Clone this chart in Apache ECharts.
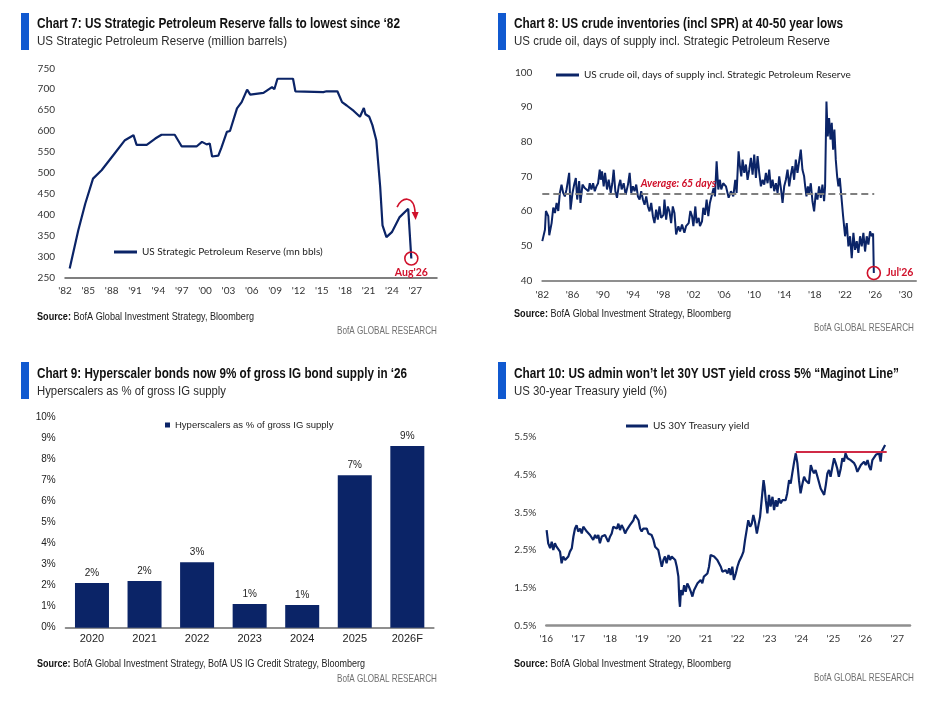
<!DOCTYPE html>
<html>
<head>
<meta charset="utf-8">
<script src="https://cdn.jsdelivr.net/npm/echarts/dist/echarts.min.js"></script>
<style>
html, body { margin: 0; padding: 0; background: #fff; }
#main { width: 928px; height: 712px; }
</style>
</head>
<body>
<div id="main"></div>
<script>
// ---- Chart 7: SPR level, [year, million barrels]
var sprLevels = [
  [1982.6,271],[1983.7,362],[1984.6,426],[1985.6,486],[1986.7,506],[1988.2,542],[1989.7,578],[1990.8,590],
  [1991.2,567],[1992.5,567],[1993.6,582],[1994.4,591],[1996.1,591],[1997.0,563],[1998.9,563],[1999.6,574],
  [2000.2,568],[2000.6,570],[2000.9,539],[2001.7,541],[2002.1,560],[2002.8,598],[2003.2,600],[2004.1,654],
  [2004.7,669],[2005.4,699],[2005.8,687],[2007.5,691],[2008.6,705],[2008.9,700],[2009.3,725],[2011.3,725],
  [2011.6,695],[2015.2,693],[2015.6,695],[2017.0,695],[2017.6,669],[2018.2,661],[2019.1,648],[2019.9,634],
  [2020.4,655],[2020.6,640],[2021.1,634],[2021.5,614],[2022.0,578],[2022.5,466],[2022.8,374],[2023.3,346],
  [2024.0,358],[2025.0,394],[2026.1,414],[2026.5,295]
];
var sprLast = [2026.5, 295];
// curved "still falling" arrow next to the last point, in data units
var sprArrow = { from: [2024.67, 418], c1: [2025.19, 442], c2: [2026.86, 449], to: [2026.99, 404],
                 headL: [2026.54, 406], headR: [2027.44, 406], tip: [2027.05, 387] };

// ---- Chart 8: days of supply incl. SPR, [year, days]
var daysOfSupply = [
  [1982.00,51.3],[1982.35,54.6],[1982.48,60.0],[1982.79,58.5],[1982.92,53.0],[1983.23,56.5],[1983.45,61.0],[1983.67,59.4],[1983.89,62.3],[1984.11,60.0],
  [1984.32,65.2],[1984.54,67.6],[1984.76,65.2],[1984.98,64.2],[1985.20,66.2],[1985.55,71.0],[1985.73,60.4],[1985.99,65.2],[1986.21,67.6],[1986.43,69.5],
  [1986.61,63.3],[1986.87,68.6],[1987.04,62.3],[1987.31,67.6],[1987.61,66.6],[1987.83,67.1],[1988.10,65.7],[1988.27,68.0],[1988.49,66.2],[1988.71,68.0],
  [1988.93,65.7],[1989.15,67.1],[1989.37,68.0],[1989.59,71.9],[1989.72,69.0],[1989.89,71.4],[1990.11,67.1],[1990.29,71.0],[1990.55,66.2],[1990.77,69.0],
  [1991.04,65.2],[1991.25,68.0],[1991.43,71.9],[1991.65,65.7],[1991.87,63.8],[1992.09,67.1],[1992.31,69.0],[1992.48,66.2],[1992.75,68.0],[1993.01,64.7],
  [1993.32,67.6],[1993.54,71.0],[1993.75,65.2],[1993.97,67.1],[1994.19,65.7],[1994.41,67.6],[1994.63,64.2],[1994.85,63.3],[1995.07,65.7],[1995.29,63.3],
  [1995.51,61.8],[1995.73,64.2],[1995.95,61.3],[1996.17,59.9],[1996.39,62.3],[1996.61,58.5],[1996.82,56.5],[1997.04,60.4],[1997.26,57.5],[1997.48,61.3],
  [1997.70,58.0],[1998.01,58.9],[1998.14,63.3],[1998.36,57.5],[1998.58,61.3],[1998.80,59.9],[1999.02,56.5],[1999.24,61.3],[1999.46,59.4],[1999.68,53.2],
  [1999.98,55.6],[2000.20,54.1],[2000.46,56.1],[2000.77,53.7],[2000.99,55.6],[2001.34,56.5],[2001.56,60.0],[2001.78,58.5],[2001.96,55.6],[2002.22,61.3],
  [2002.39,56.5],[2002.66,58.0],[2002.83,55.6],[2003.10,57.0],[2003.27,60.9],[2003.49,58.9],[2003.71,63.3],[2003.93,58.5],[2004.14,62.3],[2004.41,64.7],
  [2004.63,66.6],[2004.81,64.2],[2005.03,74.3],[2005.25,66.2],[2005.46,69.0],[2005.64,66.2],[2005.90,68.0],[2006.26,67.1],[2006.62,63.8],[2006.92,65.7],
  [2007.23,64.2],[2007.49,69.0],[2007.67,65.2],[2007.93,77.2],[2008.11,72.9],[2008.29,70.0],[2008.46,74.8],[2008.68,71.0],[2008.90,73.4],[2009.12,69.0],
  [2009.34,71.9],[2009.56,75.3],[2009.78,70.5],[2010.00,76.3],[2010.22,69.5],[2010.44,75.8],[2010.66,71.0],[2010.88,67.1],[2011.10,69.0],[2011.32,67.6],
  [2011.54,71.0],[2011.76,68.0],[2011.98,71.9],[2012.20,66.6],[2012.42,69.0],[2012.64,65.7],[2012.86,68.0],[2013.08,65.2],[2013.30,70.0],[2013.52,66.6],
  [2013.74,62.3],[2013.96,67.1],[2014.18,69.0],[2014.40,71.9],[2014.62,67.1],[2014.84,70.5],[2015.05,72.9],[2015.27,69.0],[2015.49,74.8],[2015.71,71.0],
  [2015.93,74.3],[2016.15,77.7],[2016.37,71.9],[2016.59,70.0],[2016.73,67.1],[2016.90,64.2],[2017.08,67.1],[2017.25,65.2],[2017.47,68.0],[2017.69,62.8],
  [2017.91,59.9],[2018.13,65.2],[2018.35,63.3],[2018.57,67.1],[2018.79,63.8],[2019.01,67.6],[2019.23,62.8],[2019.36,67.1],[2019.54,91.6],[2019.71,81.5],
  [2019.89,86.8],[2020.07,80.6],[2020.24,85.4],[2020.42,77.7],[2020.59,83.5],[2020.77,74.8],[2020.95,70.0],[2021.12,67.1],[2021.30,69.5],[2021.47,65.2],
  [2021.74,58.5],[2022.00,52.7],[2022.22,56.5],[2022.44,49.8],[2022.66,52.7],[2022.88,46.4],[2023.10,53.7],[2023.32,48.8],[2023.54,51.3],[2023.76,47.9],
  [2023.98,52.7],[2024.20,49.8],[2024.42,53.7],[2024.64,48.3],[2024.86,52.7],[2025.08,50.3],[2025.30,54.1],[2025.52,52.7],[2025.70,53.5],[2025.80,42.1]
];
var daysAverage = 65;
var daysAverageEnd = 2025.85;
var daysLast = [2025.80, 42.1];
var averageLabelAt = [1995.0, 67.9];

// ---- Chart 9: hyperscaler share of gross IG supply (%)
var igYears = ['2020', '2021', '2022', '2023', '2024', '2025', '2026F'];
var igShare = [2.12, 2.22, 3.11, 1.13, 1.08, 7.24, 8.64];

// ---- Chart 10: US 30Y yield, [year, %]
var ust30y = [
  [2016.01,3.03],[2016.06,2.68],[2016.12,2.55],[2016.17,2.72],[2016.22,2.50],[2016.27,2.68],[2016.32,2.59],[2016.38,2.63],[2016.43,2.46],[2016.48,2.15],
  [2016.53,2.33],[2016.59,2.24],[2016.64,2.28],[2016.69,2.33],[2016.74,2.46],[2016.80,2.55],[2016.85,2.86],[2016.90,3.07],[2016.95,3.16],[2017.00,2.99],
  [2017.06,3.07],[2017.11,2.94],[2017.16,3.12],[2017.21,3.16],[2017.27,2.99],[2017.32,3.03],[2017.37,2.90],[2017.42,2.94],[2017.47,2.77],[2017.53,2.90],
  [2017.58,2.81],[2017.63,2.90],[2017.68,2.68],[2017.74,2.86],[2017.79,2.81],[2017.84,2.90],[2017.89,2.81],[2017.94,2.72],[2018.00,2.86],[2018.05,2.94],
  [2018.10,3.12],[2018.15,3.16],[2018.21,3.07],[2018.26,3.20],[2018.31,3.03],[2018.36,3.16],[2018.42,3.07],[2018.47,2.94],[2018.52,3.03],[2018.57,3.07],
  [2018.62,3.16],[2018.68,3.12],[2018.73,3.29],[2018.78,3.43],[2018.83,3.38],[2018.89,3.29],[2018.94,3.07],[2018.99,2.99],[2019.04,3.07],[2019.09,3.03],
  [2019.15,3.07],[2019.20,2.94],[2019.25,2.99],[2019.30,2.90],[2019.36,2.77],[2019.41,2.59],[2019.46,2.63],[2019.51,2.50],[2019.57,2.46],[2019.62,2.06],
  [2019.67,2.24],[2019.72,2.33],[2019.77,2.15],[2019.83,2.37],[2019.88,2.24],[2019.93,2.33],[2019.98,2.37],[2020.04,2.24],[2020.09,2.06],[2020.14,1.80],
  [2020.17,1.18],[2020.19,1.00],[2020.22,1.44],[2020.27,1.31],[2020.32,1.57],[2020.37,1.40],[2020.42,1.62],[2020.47,1.53],[2020.53,1.40],[2020.58,1.27],
  [2020.63,1.44],[2020.68,1.49],[2020.74,1.62],[2020.79,1.57],[2020.84,1.71],[2020.89,1.62],[2020.94,1.80],[2021.00,1.84],[2021.05,1.88],[2021.10,2.06],
  [2021.15,2.37],[2021.20,2.42],[2021.26,2.33],[2021.31,2.37],[2021.36,2.24],[2021.41,2.19],[2021.47,2.06],[2021.52,1.93],[2021.57,1.88],[2021.62,1.97],
  [2021.68,1.88],[2021.73,2.02],[2021.78,1.84],[2021.83,2.06],[2021.88,1.71],[2021.94,1.88],[2021.99,2.06],[2022.04,2.19],[2022.12,2.33],[2022.18,2.46],
  [2022.23,2.77],[2022.28,3.03],[2022.33,3.29],[2022.39,3.12],[2022.44,3.20],[2022.49,3.43],[2022.54,3.25],[2022.60,2.94],[2022.65,3.16],[2022.70,3.38],
  [2022.75,3.82],[2022.81,4.35],[2022.84,4.18],[2022.88,3.82],[2022.93,3.47],[2022.98,3.96],[2023.03,3.65],[2023.09,3.91],[2023.14,3.56],[2023.19,3.82],
  [2023.24,3.65],[2023.29,3.87],[2023.35,3.74],[2023.40,3.82],[2023.45,3.87],[2023.50,3.82],[2023.55,4.00],[2023.61,4.35],[2023.66,4.26],[2023.71,4.53],
  [2023.77,4.84],[2023.82,5.06],[2023.87,4.80],[2023.92,4.35],[2023.97,4.00],[2024.03,4.26],[2024.08,4.44],[2024.13,4.35],[2024.18,4.40],[2024.23,4.26],
  [2024.29,4.75],[2024.34,4.62],[2024.39,4.53],[2024.44,4.62],[2024.50,4.44],[2024.55,4.40],[2024.60,4.13],[2024.65,4.09],[2024.71,3.96],[2024.76,4.22],
  [2024.81,4.53],[2024.86,4.62],[2024.91,4.44],[2024.97,4.71],[2025.02,4.93],[2025.07,4.80],[2025.12,4.66],[2025.17,4.44],[2025.23,4.66],[2025.28,4.93],
  [2025.33,4.84],[2025.38,5.06],[2025.44,4.93],[2025.49,4.97],[2025.54,4.88],[2025.59,4.93],[2025.65,4.80],[2025.70,4.71],[2025.75,4.57],[2025.80,4.62],
  [2025.86,4.75],[2025.91,4.71],[2025.96,4.84],[2026.01,4.75],[2026.07,4.88],[2026.12,4.71],[2026.17,4.62],[2026.22,4.88],[2026.27,4.93],[2026.33,5.02],
  [2026.38,4.97],[2026.43,5.06],[2026.48,4.84],[2026.51,5.10],[2026.57,5.15],[2026.62,5.28]
];
var maginotLevel = 5.09;
var maginotFrom = 2023.82;
var maginotTo = 2026.67;

// ---- styling
var NAVY = '#0b2467';
var RED = '#d0112b';
var BLUE = '#1059d0';
var FONT_NARROW = '"Liberation Sans", Arial, sans-serif';
var FONT_TICK = 'Lato, "Liberation Sans", sans-serif';

function yearLabel(base, step) {
  return function (v) {
    var r = Math.round(v);
    if (Math.abs(v - r) > 1e-6 || (r - base) % step !== 0) return '';
    return "'" + String(r % 100).padStart(2, '0');
  };
}

var tickText = { color: '#333', fontSize: 10, fontFamily: FONT_TICK };

function yAxis(i, min, max, step, fmt, font) {
  return {
    type: 'value', gridIndex: i, min: min, max: max, interval: step,
    axisLine: { show: false }, axisTick: { show: false }, splitLine: { show: false },
    axisLabel: Object.assign({ margin: 10, formatter: fmt }, font || tickText)
  };
}

function yearAxis(i, min, max, step, lineColor, lineWidth, margin) {
  return {
    type: 'value', gridIndex: i, min: min, max: max, interval: step,
    axisLine: { onZero: false, lineStyle: { color: lineColor, width: lineWidth } },
    axisTick: { show: false }, splitLine: { show: false },
    axisLabel: Object.assign({ margin: margin, formatter: yearLabel(min, step) }, tickText)
  };
}

// panel headers, sources and footers (w* = width the text should take, in px)
var panels = [
  { bx: 21, by: 13, tx: 37, ty: 24.3, sy: 41.7, srcY: 317, brX: 437, brY: 331, wT: 363, wS: 250, wSrc: 217,
    title: 'Chart 7: US Strategic Petroleum Reserve falls to lowest since \u201882',
    sub: 'US Strategic Petroleum Reserve (million barrels)',
    src: 'BofA Global Investment Strategy, Bloomberg' },
  { bx: 498, by: 13, tx: 514, ty: 24.3, sy: 41.7, srcY: 314, brX: 914, brY: 328, wT: 329, wS: 316, wSrc: 217,
    title: 'Chart 8: US crude inventories (incl SPR) at 40-50 year lows',
    sub: 'US crude oil, days of supply incl. Strategic Petroleum Reserve',
    src: 'BofA Global Investment Strategy, Bloomberg' },
  { bx: 21, by: 362, tx: 37, ty: 374.3, sy: 391.7, srcY: 664.3, brX: 437, brY: 679, wT: 370, wS: 189, wSrc: 328,
    title: 'Chart 9: Hyperscaler bonds now 9% of gross IG bond supply in \u201826',
    sub: 'Hyperscalers as % of gross IG supply',
    src: 'BofA Global Investment Strategy, BofA US IG Credit Strategy, Bloomberg' },
  { bx: 498, by: 362, tx: 514, ty: 374.3, sy: 391.7, srcY: 664.3, brX: 914, brY: 678.3, wT: 385, wS: 153, wSrc: 217,
    title: 'Chart 10: US admin won\u2019t let 30Y UST yield cross 5% \u201cMaginot Line\u201d',
    sub: 'US 30-year Treasury yield (%)',
    src: 'BofA Global Investment Strategy, Bloomberg' }
];

var measureCtx = document.createElement('canvas').getContext('2d');
function measure(str, size, weight) {
  measureCtx.font = weight + ' ' + size + 'px ' + FONT_NARROW;
  return measureCtx.measureText(str).width;
}

function text(x, y, str, size, weight, color, align, width, extra) {
  var natural = extra && extra.naturalWidth ? extra.naturalWidth : measure(str, size, weight);
  var style = {
    text: str, fontSize: size, fontWeight: weight, fontFamily: FONT_NARROW, fill: color,
    align: align, textAlign: align, verticalAlign: 'middle', textVerticalAlign: 'middle'
  };
  if (extra && extra.rich) style.rich = extra.rich;
  return { type: 'text', x: x, y: y, silent: true, scaleX: width / natural, style: style };
}

var graphics = [];
panels.forEach(function (p) {
  graphics.push({ type: 'rect', silent: true, shape: { x: p.bx, y: p.by, width: 8, height: 37 }, style: { fill: BLUE } });
  graphics.push(text(p.tx, p.ty, p.title, 14, 'bold', '#111', 'left', p.wT));
  graphics.push(text(p.tx, p.sy, p.sub, 13, 'normal', '#2b2b2b', 'left', p.wS));
  graphics.push(text(p.tx, p.srcY, '{b|Source:} ' + p.src, 10.5, 'normal', '#222', 'left', p.wSrc, {
    rich: { b: { fontWeight: 'bold', fontSize: 10.5, fontFamily: FONT_NARROW, fill: '#111' } },
    naturalWidth: measure('Source:', 10.5, 'bold') + measure(' ' + p.src, 10.5, 'normal')
  }));
  graphics.push(text(p.brX, p.brY, 'BofA GLOBAL RESEARCH', 10.5, 'normal', '#707070', 'right', 100));
});

var redLabel = { color: RED, fontWeight: 'bold', fontSize: 10.5, fontFamily: FONT_TICK };
var ringStyle = { color: 'rgba(0,0,0,0)', borderColor: RED, borderWidth: 1.6 };

var option = {
  animation: false,
  backgroundColor: '#fff',
  graphic: { elements: graphics },
  grid: [
    { left: 65, top: 68.3, width: 372, height: 209, containLabel: false, outerBoundsMode: 'none' },
    { left: 542.3, top: 72.3, width: 373.7, height: 208, containLabel: false, outerBoundsMode: 'none' },
    { left: 65.7, top: 417.3, width: 367.9, height: 210.4, containLabel: false, outerBoundsMode: 'none' },
    { left: 546.3, top: 436.7, width: 363.7, height: 189, containLabel: false, outerBoundsMode: 'none' }
  ],
  xAxis: [
    yearAxis(0, 1982, 2029.8, 3, '#555', 1.5, 8),
    yearAxis(1, 1982, 2031.37, 4, '#8f8f8f', 2, 9),
    {
      type: 'category', gridIndex: 2, data: igYears,
      axisLine: { lineStyle: { color: '#8f8f8f', width: 2 } },
      axisTick: { show: false }, splitLine: { show: false },
      axisLabel: { margin: 6, color: '#222', fontSize: 11, fontFamily: FONT_NARROW }
    },
    yearAxis(3, 2016, 2027.4, 1, '#8f8f8f', 2.5, 8)
  ],
  yAxis: [
    yAxis(0, 250, 750, 50, null),
    yAxis(1, 40, 100, 10, null),
    yAxis(2, 0, 10, 1, function (v) { return v + '%'; }, { color: '#222', fontSize: 10, fontFamily: FONT_NARROW }),
    yAxis(3, 0.5, 5.5, 1, function (v) { return v.toFixed(1) + '%'; })
  ],
  legend: [
    { data: ['US Strategic Petroleum Reserve (mn bbls)'], left: 114, top: 247, padding: 0,
      icon: 'rect', itemWidth: 23, itemHeight: 3,
      textStyle: { color: '#222', fontSize: 10, fontFamily: FONT_TICK } },
    { data: ['US crude oil, days of supply incl. Strategic Petroleum Reserve'], left: 556, top: 70, padding: 0,
      icon: 'rect', itemWidth: 23, itemHeight: 3,
      textStyle: { color: '#222', fontSize: 10, fontFamily: FONT_TICK } },
    { data: ['Hyperscalers as % of gross IG supply'], left: 165, top: 420, padding: 0,
      icon: 'rect', itemWidth: 5, itemHeight: 5,
      textStyle: { color: '#222', fontSize: 9.5, fontFamily: FONT_NARROW } },
    { data: ['US 30Y Treasury yield'], left: 626, top: 421, padding: 0,
      icon: 'rect', itemWidth: 22, itemHeight: 3,
      textStyle: { color: '#222', fontSize: 10, fontFamily: FONT_TICK } }
  ],
  series: [
    {
      name: 'US Strategic Petroleum Reserve (mn bbls)', type: 'line',
      xAxisIndex: 0, yAxisIndex: 0, data: sprLevels,
      showSymbol: false, symbol: 'none', color: NAVY,
      lineStyle: { color: NAVY, width: 2.2 },
      markPoint: {
        silent: true,
        data: [{
          coord: sprLast, symbol: 'circle', symbolSize: 13, itemStyle: ringStyle,
          label: Object.assign({ show: true, position: 'bottom', distance: 1, formatter: "Aug'26" }, redLabel)
        }]
      }
    },
    {
      name: 'US crude oil, days of supply incl. Strategic Petroleum Reserve', type: 'line',
      xAxisIndex: 1, yAxisIndex: 1, data: daysOfSupply,
      showSymbol: false, symbol: 'none', color: NAVY,
      lineStyle: { color: NAVY, width: 2 },
      markLine: {
        silent: true, symbol: 'none',
        lineStyle: { color: '#7f7f7f', width: 2, type: [7, 4] },
        label: { show: false },
        data: [[{ coord: [1982, daysAverage] }, { coord: [daysAverageEnd, daysAverage] }]]
      },
      markPoint: {
        silent: true,
        data: [
          { coord: daysLast, symbol: 'circle', symbolSize: 13, itemStyle: ringStyle,
            label: Object.assign({ show: true, position: 'right', distance: 5, formatter: "Jul'26" }, redLabel) },
          { coord: averageLabelAt, symbol: 'circle', symbolSize: 0,
            label: Object.assign({ show: true, position: 'right', distance: 0, formatter: 'Average: ' + daysAverage + ' days',
              fontStyle: 'italic' }, redLabel) }
        ]
      }
    },
    {
      name: 'Hyperscalers as % of gross IG supply', type: 'bar',
      xAxisIndex: 2, yAxisIndex: 2, data: igShare, barWidth: 34, color: NAVY,
      itemStyle: { color: NAVY },
      label: {
        show: true, position: 'top', distance: 5, color: '#222', fontSize: 10, fontFamily: FONT_NARROW,
        formatter: function (p) { return Math.round(p.value) + '%'; }
      }
    },
    {
      name: 'US 30Y Treasury yield', type: 'line',
      xAxisIndex: 3, yAxisIndex: 3, data: ust30y,
      showSymbol: false, symbol: 'none', color: NAVY,
      lineStyle: { color: NAVY, width: 2.2 },
      markLine: {
        silent: true, symbol: 'none',
        lineStyle: { color: '#d02a46', width: 2, type: 'solid' },
        label: { show: false },
        data: [[{ coord: [maginotFrom, maginotLevel] }, { coord: [maginotTo, maginotLevel] }]]
      }
    }
  ]
};

var myChart = echarts.init(document.getElementById('main'));
myChart.setOption(option);

// the curved red arrow in chart 7, placed through the chart's own scales
function px(pt) { return myChart.convertToPixel({ gridIndex: 0 }, pt); }
var a0 = px(sprArrow.from), a1 = px(sprArrow.c1), a2 = px(sprArrow.c2), a3 = px(sprArrow.to);
graphics.push({
  type: 'bezierCurve', silent: true,
  shape: { x1: a0[0], y1: a0[1], cpx1: a1[0], cpy1: a1[1], cpx2: a2[0], cpy2: a2[1], x2: a3[0], y2: a3[1] },
  style: { stroke: RED, lineWidth: 1.6, fill: null }
});
graphics.push({
  type: 'polygon', silent: true,
  shape: { points: [px(sprArrow.headL), px(sprArrow.headR), px(sprArrow.tip)] },
  style: { fill: RED }
});
myChart.setOption({ graphic: { elements: graphics } });
window.onresize = myChart.resize;
</script>
</body>
</html>
